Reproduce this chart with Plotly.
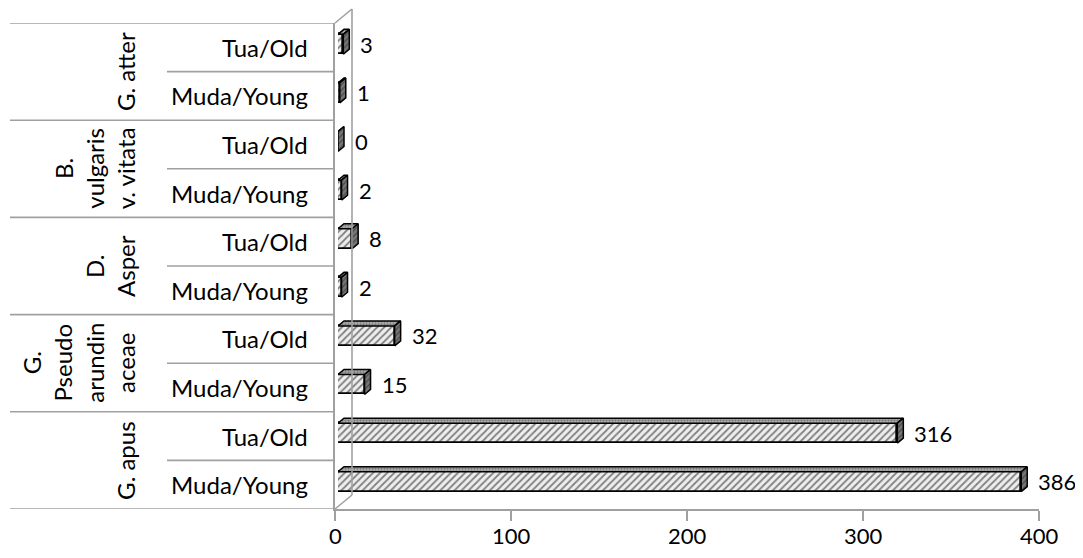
import plotly.graph_objects as go

# ---- data (rows listed bottom to top) ----
groups = ["G. apus", "G. Pseudo arundin aceae", "D. Asper", "B. vulgaris v. vitata", "G. atter"]
group_labels = ["G. apus", "G.<br>Pseudo<br>arundin<br>aceae", "D.<br>Asper", "B.<br>vulgaris<br>v. vitata", "G. atter"]
sub_labels = ["Muda/Young", "Tua/Old"]
young_values = [386, 15, 2, 2, 1]
old_values = [316, 32, 8, 0, 3]
x_ticks = [0, 100, 200, 300, 400]

values = []
rows_sub = []
for gi in range(len(groups)):
    values += [young_values[gi], old_values[gi]]
    rows_sub += sub_labels
n = len(values)
ypos = list(range(n))

# ---- geometry (pixels, measured in screenshot coordinates; page body has an 8px margin) ----
OFF = 8
W, H = 1083 - 2 * OFF, 558 - 2 * OFF
L = 335 - OFF
B = H - (509 - OFF)
PW, PH = 725, 490
R = W - L - PW
T = H - B - PH
FRONT_W = 704          # width of value axis 0..400
FRONT_H = 486          # height of category axis
BAR_DX, BAR_DY = 3, 3  # bar plane offset from front plane
BAR_SCALE = 708        # px for 0..400 on bar plane
DEPTH_X, DEPTH_Y = 6, 5  # bar depth
WALL_X, WALL_Y = 17, 14  # wall depth
FONT = "Lato"
FS = 24
FS_NUM = 22
GRAY = "#a0a0a0"

def px(xp):
    return (xp - OFF - L) / PW

def py(yp):
    return (H - B - (yp - OFF)) / PH

ux = BAR_SCALE / 400.0
uy = FRONT_H / n
ddx = DEPTH_X / ux
ddy = DEPTH_Y / uy
hw = 0.205

fig = go.Figure()

fig.add_trace(go.Bar(
    x=values, y=ypos, orientation="h", width=2 * hw,
    xaxis="x2", yaxis="y2",
    marker=dict(color="#ffffff", line=dict(color="#000000", width=1.7),
                pattern=dict(shape="/", fgcolor="#111111", bgcolor="#eeeeee", size=5, solidity=0.35)),
    hoverinfo="skip", showlegend=False,
))

# side and top faces of the 3-D boxes
sx, sy, tx, ty = [], [], [], []
for v, yc in zip(values, ypos):
    sx += [v, v + ddx, v + ddx, v, v, None]
    sy += [yc - hw, yc - hw + ddy, yc + hw + ddy, yc + hw, yc - hw, None]
    tx += [0, v, v + ddx, ddx, 0, None]
    ty += [yc + hw, yc + hw, yc + hw + ddy, yc + hw + ddy, yc + hw, None]

fig.add_trace(go.Scatter(
    x=tx, y=ty, xaxis="x2", yaxis="y2", mode="lines", fill="toself",
    fillcolor="#a8a8a8", line=dict(color="#000000", width=1.5),
    fillpattern=dict(shape=".", fgcolor="#444444", bgcolor="#b0b0b0", size=3, solidity=0.45),
    hoverinfo="skip", showlegend=False,
))
fig.add_trace(go.Scatter(
    x=sx, y=sy, xaxis="x2", yaxis="y2", mode="lines", fill="toself",
    fillcolor="#5a5a5a", line=dict(color="#000000", width=1.5),
    fillpattern=dict(shape="/", fgcolor="#222222", bgcolor="#777777", size=4, solidity=0.35),
    hoverinfo="skip", showlegend=False,
))

annotations = []
# value labels
for v, yc in zip(values, ypos):
    annotations.append(dict(x=v, y=yc, xref="x2", yref="y2", text=str(v), showarrow=False,
                            xanchor="left", yanchor="middle", xshift=DEPTH_X + 9,
                            font=dict(family=FONT, size=FS_NUM, color="#000000")))
# value-axis tick labels
for tv in x_ticks:
    annotations.append(dict(x=tv, y=py(535), xref="x", yref="paper", text=str(tv), showarrow=False,
                            xanchor="center", yanchor="middle", borderpad=0,
                            font=dict(family=FONT, size=FS_NUM, color="#000000")))
# inner category labels
for yc, s in zip(ypos, rows_sub):
    annotations.append(dict(x=px(310), y=yc, xref="paper", yref="y", text=s, showarrow=False,
                            xanchor="right", yanchor="middle",
                            font=dict(family=FONT, size=FS, color="#000000")))
# group labels
for gi, g in enumerate(group_labels):
    annotations.append(dict(x=px(142), y=2 * gi + 0.5, xref="paper", yref="y", text=g, showarrow=False,
                            textangle=-90, xanchor="right", yanchor="middle", align="center",
                            font=dict(family=FONT, size=FS, color="#000000")))

shapes = []
# group separators
for gi in range(len(groups) + 1):
    yb = 2 * gi - 0.5
    shapes.append(dict(type="line", xref="paper", yref="y", x0=px(10), x1=px(334), y0=yb, y1=yb,
                       line=dict(color=GRAY, width=1.6)))
# sub separators
for gi in range(len(groups)):
    yb = 2 * gi + 0.5
    shapes.append(dict(type="line", xref="paper", yref="y", x0=px(167), x1=px(334), y0=yb, y1=yb,
                       line=dict(color=GRAY, width=1.6)))
# back wall
top_y, bot_y = 509 - FRONT_H, 509
for (x0, y0, x1, y1) in [(335, top_y, 335 + WALL_X, top_y - WALL_Y),
                         (335, bot_y, 335 + WALL_X, bot_y - WALL_Y),
                         (335 + WALL_X, top_y - WALL_Y, 335 + WALL_X, bot_y - WALL_Y)]:
    shapes.append(dict(type="line", xref="paper", yref="paper", x0=px(x0), y0=py(y0), x1=px(x1), y1=py(y1),
                       line=dict(color=GRAY, width=1.6)))

fig.update_layout(
    width=W, height=H, margin=dict(l=L, r=R, t=T, b=B, autoexpand=False),
    paper_bgcolor="#ffffff", plot_bgcolor="rgba(0,0,0,0)",
    font=dict(family=FONT, size=FS, color="#000000"),
    xaxis=dict(domain=[0, FRONT_W / PW], range=[0, 400], tickvals=x_ticks, showticklabels=False,
               showgrid=False, zeroline=False, showline=True, linecolor=GRAY, linewidth=1.6,
               ticks="outside", ticklen=10, tickcolor=GRAY, tickwidth=1.6,
               fixedrange=True, anchor="y"),
    yaxis=dict(domain=[0, FRONT_H / PH], range=[-0.5, n - 0.5], showticklabels=False,
               showgrid=False, zeroline=False, showline=True, linecolor=GRAY, linewidth=1.6,
               ticks="", fixedrange=True, anchor="x"),
    xaxis2=dict(domain=[BAR_DX / PW, (BAR_DX + BAR_SCALE) / PW], range=[0, 400], visible=False,
                anchor="y2", fixedrange=True),
    yaxis2=dict(domain=[BAR_DY / PH, (BAR_DY + FRONT_H) / PH], range=[-0.5, n - 0.5], visible=False,
                anchor="x2", fixedrange=True),
    annotations=annotations, shapes=shapes, bargap=0,
)

fig.write_html("out.html")
